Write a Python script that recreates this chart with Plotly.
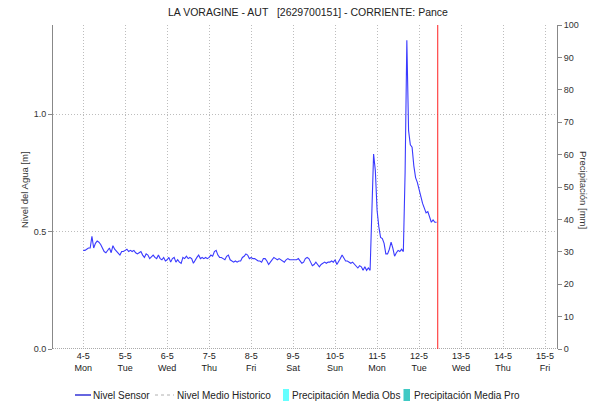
import pandas as pd
import plotly.graph_objects as go

# Hourly water level readings [m], starting 2020-05-04 00:00
nivel_may04 = [0.42, 0.42, 0.425, 0.43, 0.43, 0.48, 0.43, 0.45, 0.46, 0.455, 0.445, 0.43,
               0.415, 0.41, 0.42, 0.43, 0.41, 0.44, 0.425, 0.415, 0.41, 0.40, 0.415, 0.415]
nivel_may05 = [0.42, 0.425, 0.415, 0.42, 0.415, 0.42, 0.41, 0.405, 0.41, 0.415, 0.40, 0.39,
               0.405, 0.40, 0.385, 0.395, 0.40, 0.39, 0.385, 0.40, 0.385, 0.38, 0.39, 0.375]
nivel_may06 = [0.38, 0.39, 0.37, 0.385, 0.39, 0.37, 0.38, 0.37, 0.365, 0.39, 0.385, 0.395,
               0.385, 0.39, 0.385, 0.365, 0.38, 0.39, 0.40, 0.385, 0.39, 0.385, 0.39, 0.385]
nivel_may07 = [0.39, 0.40, 0.395, 0.415, 0.42, 0.40, 0.39, 0.39, 0.385, 0.38, 0.395, 0.40,
               0.38, 0.375, 0.37, 0.375, 0.37, 0.375, 0.375, 0.39, 0.395, 0.405, 0.40, 0.385]
nivel_may08 = [0.39, 0.385, 0.385, 0.38, 0.375, 0.375, 0.37, 0.385, 0.385, 0.375, 0.36, 0.37,
               0.38, 0.39, 0.385, 0.38, 0.385, 0.38, 0.375, 0.37, 0.38, 0.385, 0.38, 0.38]
nivel_may09 = [0.38, 0.38, 0.38, 0.385, 0.375, 0.365, 0.37, 0.385, 0.39, 0.385, 0.37, 0.355,
               0.36, 0.37, 0.36, 0.35, 0.36, 0.365, 0.37, 0.365, 0.37, 0.37, 0.375, 0.37]
nivel_may10 = [0.38, 0.36, 0.37, 0.385, 0.40, 0.39, 0.375, 0.375, 0.37, 0.365, 0.37, 0.36,
               0.35, 0.345, 0.355, 0.35, 0.335, 0.35, 0.335, 0.345, 0.335, 0.62, 0.83, 0.76]
nivel_may11 = [0.59, 0.52, 0.475, 0.47, 0.45, 0.405, 0.405, 0.425, 0.455, 0.43, 0.395, 0.41,
               0.42, 0.415, 0.425, 0.415, 0.75, 1.315, 0.93, 0.87, 0.86, 0.78, 0.73, 0.71]
nivel_may12 = [0.68, 0.64, 0.62, 0.60, 0.58, 0.585, 0.56, 0.54, 0.55, 0.54, 0.54]

nivel_sensor = (nivel_may04 + nivel_may05 + nivel_may06 + nivel_may07 + nivel_may08
                + nivel_may09 + nivel_may10 + nivel_may11 + nivel_may12)
tiempos = pd.date_range("2020-05-04 00:00", periods=len(nivel_sensor), freq="h")

# Day ticks and labels
dias = ["2020-05-04", "2020-05-05", "2020-05-06", "2020-05-07", "2020-05-08", "2020-05-09",
        "2020-05-10", "2020-05-11", "2020-05-12", "2020-05-13", "2020-05-14", "2020-05-15"]
etiquetas_dias = ["4-5<br>Mon", "5-5<br>Tue", "6-5<br>Wed", "7-5<br>Thu", "8-5<br>Fri",
                  "9-5<br>Sat", "10-5<br>Sun", "11-5<br>Mon", "12-5<br>Tue", "13-5<br>Wed",
                  "14-5<br>Thu", "15-5<br>Fri"]
hora_actual = "2020-05-12 10:40"

FONT = "Liberation Sans, Arial, sans-serif"
W, H = 590, 404
ML, MR, MT, MB = 53, 33, 25, 55
PW, PH = W - ML - MR, H - MT - MB


def px(xp):
    return (xp - ML) / PW


def py(yp):
    return (H - MB - yp) / PH


fig = go.Figure()
fig.add_trace(go.Scatter(x=tiempos, y=nivel_sensor, mode="lines", name="Nivel Sensor",
                         line=dict(color="#3a3aff", width=1.1)))
fig.add_trace(go.Scatter(x=[], y=[], mode="lines", name="Nivel Medio Historico",
                         line=dict(color="#aaaaaa", dash="dash", width=1)))
fig.add_trace(go.Bar(x=[], y=[], name="Precipitación Media Obs", marker_color="#66ffff",
                     yaxis="y2"))
fig.add_trace(go.Bar(x=[], y=[], name="Precipitación Media Pro", marker_color="#3fc9c4",
                     yaxis="y2"))

grid = dict(showgrid=True, gridcolor="#bdbdbd", griddash="1px,2px", gridwidth=1)

fig.update_layout(
    width=W, height=H,
    margin=dict(l=ML, r=MR, t=MT, b=MB),
    plot_bgcolor="white", paper_bgcolor="white",
    showlegend=False,
    font=dict(family=FONT, size=9, color="#333333"),
    xaxis=dict(type="date", range=["2020-05-03 06:45", "2020-05-15 06:50"],
               tickmode="array", tickvals=dias, ticktext=etiquetas_dias,
               ticks="", zeroline=False, showline=False,
               tickfont=dict(family=FONT, size=9, color="#222222"), **grid),
    yaxis=dict(range=[0, 1.38], tickmode="array", tickvals=[0, 0.5, 1.0],
               ticktext=["0.0", "0.5", "1.0"], ticks="outside", ticklen=4,
               tickcolor="#888888", showline=True, linecolor="#888888", zeroline=False,
               tickfont=dict(family=FONT, size=9, color="#333333"), **grid),
    yaxis2=dict(range=[0, 100], overlaying="y", side="right", dtick=10,
                ticks="outside", ticklen=4, tickcolor="#888888", showline=True,
                linecolor="#888888", showgrid=False, zeroline=False,
                tickfont=dict(family=FONT, size=9, color="#333333")),
    bargap=0,
)

shapes = [
    # bottom axis, dotted
    dict(type="line", xref="paper", yref="y", x0=0, x1=1, y0=0, y1=0,
         line=dict(color="#555555", width=1, dash="1px,1px")),
    # current time marker
    dict(type="line", xref="x", yref="paper", x0=hora_actual, x1=hora_actual, y0=0, y1=1,
         line=dict(color="#ff2020", width=1)),
    # legend symbols
    dict(type="line", xref="paper", yref="paper", x0=px(75), x1=px(91), y0=py(395), y1=py(395),
         line=dict(color="#0000cc", width=1.2)),
    dict(type="line", xref="paper", yref="paper", x0=px(155), x1=px(174), y0=py(395), y1=py(395),
         line=dict(color="#b0b0b0", width=1, dash="3px,3px")),
    dict(type="rect", xref="paper", yref="paper", x0=px(283), x1=px(289), y0=py(401), y1=py(389),
         line=dict(width=0), fillcolor="#66ffff"),
    dict(type="rect", xref="paper", yref="paper", x0=px(403.5), x1=px(410), y0=py(401), y1=py(389),
         line=dict(width=0), fillcolor="#3fc9c4"),
]
fig.update_layout(shapes=shapes)

ann = [
    dict(text="LA VORAGINE - AUT \u00a0 [2629700151] - CORRIENTE: Pance",
         xref="paper", yref="paper", x=px(307.5), y=py(12), xanchor="center", yanchor="middle",
         showarrow=False, font=dict(family=FONT, size=10.5, color="#222222")),
    dict(text="Nivel del Agua [m]", textangle=-90, xref="paper", yref="paper",
         x=px(24), y=py(190), xanchor="center", yanchor="middle", showarrow=False,
         font=dict(family=FONT, size=9.5, color="#333333")),
    dict(text="Precipitación [mm]", textangle=90, xref="paper", yref="paper",
         x=px(584), y=py(190), xanchor="center", yanchor="middle", showarrow=False,
         font=dict(family=FONT, size=9.5, color="#333333")),
]
legend_items = [("Nivel Sensor", 92), ("Nivel Medio Historico", 176),
                ("Precipitación Media Obs", 291), ("Precipitación Media Pro", 412.5)]
for texto, xl in legend_items:
    ann.append(dict(text=texto, xref="paper", yref="paper", x=px(xl), y=py(395),
                    xanchor="left", yanchor="middle", showarrow=False, borderpad=0,
                    font=dict(family=FONT, size=10, color="#222222")))
fig.update_layout(annotations=ann)

fig.write_html("out.html")
